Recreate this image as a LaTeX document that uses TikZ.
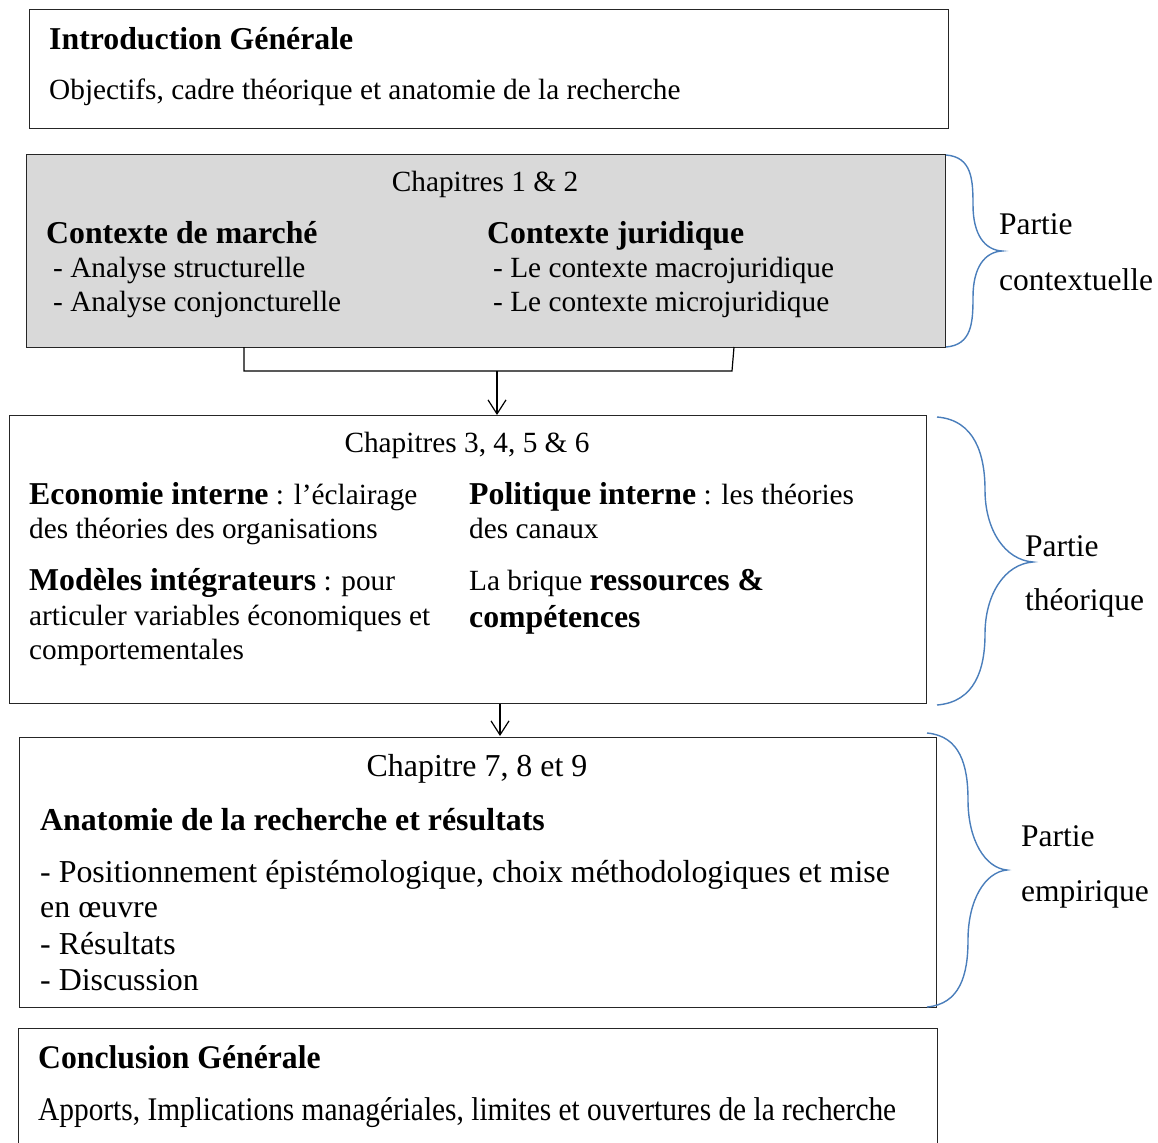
\documentclass[tikz,border=0pt]{standalone}
\usepackage{fontspec}
\setmainfont{Liberation Serif}
\newfontfamily\condfont[FakeStretch=0.89]{Liberation Serif}
\newfontfamily\condtitle[FakeStretch=0.96]{Liberation Serif}
\usetikzlibrary{positioning, calc, arrows.meta}
\definecolor{bracecol}{HTML}{4A7EBB}
\definecolor{boxgray}{HTML}{D9D9D9}

\begin{document}
\begin{tikzpicture}[x=1pt, y=-1pt, >={Straight Barb[length=14pt,width=18pt]},
  box/.style={draw=black!85, line width=1.2pt, anchor=north west, inner sep=0pt},
  txt/.style={anchor=base west, inner sep=0pt, font=\fontsize{29.3}{35}\selectfont},
  mid/.style={anchor=base, inner sep=0pt, font=\fontsize{29.3}{35}\selectfont},
  big/.style={anchor=base west, inner sep=0pt, font=\fontsize{31.9}{38}\selectfont},
  bold/.style={anchor=base west, inner sep=0pt, font=\fontsize{31.8}{38}\selectfont\bfseries},
  cond/.style={anchor=base west, inner sep=0pt, font=\fontsize{33}{39}\condfont},
  brace/.style={draw=bracecol, line width=1.4pt},
  part/.style={anchor=base west, inner sep=0pt, font=\fontsize{31.5}{38}\selectfont}
]
\useasboundingbox (0,0) rectangle (1158,1142);

% les cadres
\node[box, minimum width=919pt, minimum height=119pt] (intro) at (29,9) {};
\node[box, fill=boxgray, minimum width=919pt, minimum height=193pt] (contexte) at (26,154) {};
\node[box, minimum width=917pt, minimum height=288pt] (theorie) at (9,415) {};
\node[box, minimum width=917pt, minimum height=270pt] (empirie) at (19,737) {};
\node[box, minimum width=919pt, minimum height=140pt] (conclusion) at (18,1028) {};

% Introduction
\node[bold] (introtitre) at (49,50) {Introduction Générale};
\node[txt] (introtexte) at (49,100) {Objectifs, cadre théorique et anatomie de la recherche};

% Chapitres 1 & 2
\node[mid] (chap12) at (485,191) {Chapitres 1 \& 2};
\node[bold] (marche) at (46,243) {Contexte de marché};
\node[txt] (marche1) at (53,277) {- Analyse structurelle};
\node[txt] (marche2) at (53,311) {- Analyse conjoncturelle};
\node[bold] (juridique) at (487,243) {Contexte juridique};
\node[txt] (juridique1) at (493,277) {- Le contexte macrojuridique};
\node[txt] (juridique2) at (493,311) {- Le contexte microjuridique};

% Chapitres 3 a 6
\node[mid] (chap36) at (467,452) {Chapitres 3, 4, 5 \& 6};
\node[txt] (eco1) at (29,504) {{\fontsize{31.8}{38}\selectfont\bfseries Economie interne} : l’éclairage};
\node[txt] (eco2) at (29,538) {des théories des organisations};
\node[txt] (modeles1) at (29,590) {{\fontsize{31.8}{38}\selectfont\bfseries Modèles intégrateurs} : pour};
\node[txt] (modeles2) at (29,625) {articuler variables économiques et};
\node[txt] (modeles3) at (29,659) {comportementales};
\node[txt] (poli1) at (469,504) {{\fontsize{31.8}{38}\selectfont\bfseries Politique interne} : les théories};
\node[txt] (poli2) at (469,538) {des canaux};
\node[txt] (brique1) at (469,590) {La brique {\fontsize{31.8}{38}\selectfont\bfseries ressources \&}};
\node[bold] (brique2) at (469,627) {compétences};

% Chapitres 7 a 9
\node[mid, font=\fontsize{31.9}{38}\selectfont] (chap79) at (477,776) {Chapitre 7, 8 et 9};
\node[bold, font=\fontsize{31.9}{38}\selectfont\bfseries] (anatomie) at (40,830) {Anatomie de la recherche et résultats};
\node[big] (emp1) at (40,882) {- Positionnement épistémologique, choix méthodologiques et mise};
\node[big] (emp2) at (40,917) {en œuvre};
\node[big] (emp3) at (40,954) {- Résultats};
\node[big] (emp4) at (40,990) {- Discussion};

% Conclusion
\node[cond, font=\fontsize{33}{39}\condtitle\bfseries] (conctitre) at (38,1068) {Conclusion Générale};
\node[cond] (conctexte) at (38,1120) {Apports, Implications managériales, limites et ouvertures de la recherche};

% liaison entre les cadres
\coordinate (gauche) at (244,347);
\coordinate (droite) at (734,347);
\coordinate (pied) at (497,371);
\draw[line width=1.2pt] (gauche) -- (244,371) -- (732,371) -- (droite);
\draw[->, line width=1.2pt] (pied) -- (pied |- theorie.north);
\draw[->, line width=1.2pt] (500,704) -- (500,736);

% accolades
\draw[brace] (946,155) .. controls (972,157) and (973,180) .. (973,205)
  .. controls (973,235) and (985,250) .. (1002,251)
  .. controls (985,252) and (973,267) .. (973,297)
  .. controls (973,322) and (972,345) .. (946,347);
\draw[brace] (937,417) .. controls (975,420) and (985,455) .. (985,490)
  .. controls (985,530) and (1005,560) .. (1033,562)
  .. controls (1005,564) and (985,594) .. (985,634)
  .. controls (985,669) and (975,702) .. (937,705);
\draw[brace] (927,733) .. controls (960,736) and (968,765) .. (968,800)
  .. controls (968,840) and (985,868) .. (1007,870)
  .. controls (985,872) and (968,900) .. (968,940)
  .. controls (968,975) and (960,1004) .. (927,1007);

\node[part] (contexte1) at (999,234) {Partie};
\node[part] (contexte2) at (999,290) {contextuelle};
\node[part] (theorie1) at (1025,556) {Partie};
\node[part] (theorie2) at (1025,610) {théorique};
\node[part] (empirie1) at (1021,846) {Partie};
\node[part] (empirie2) at (1021,901) {empirique};
\end{tikzpicture}
\end{document}
